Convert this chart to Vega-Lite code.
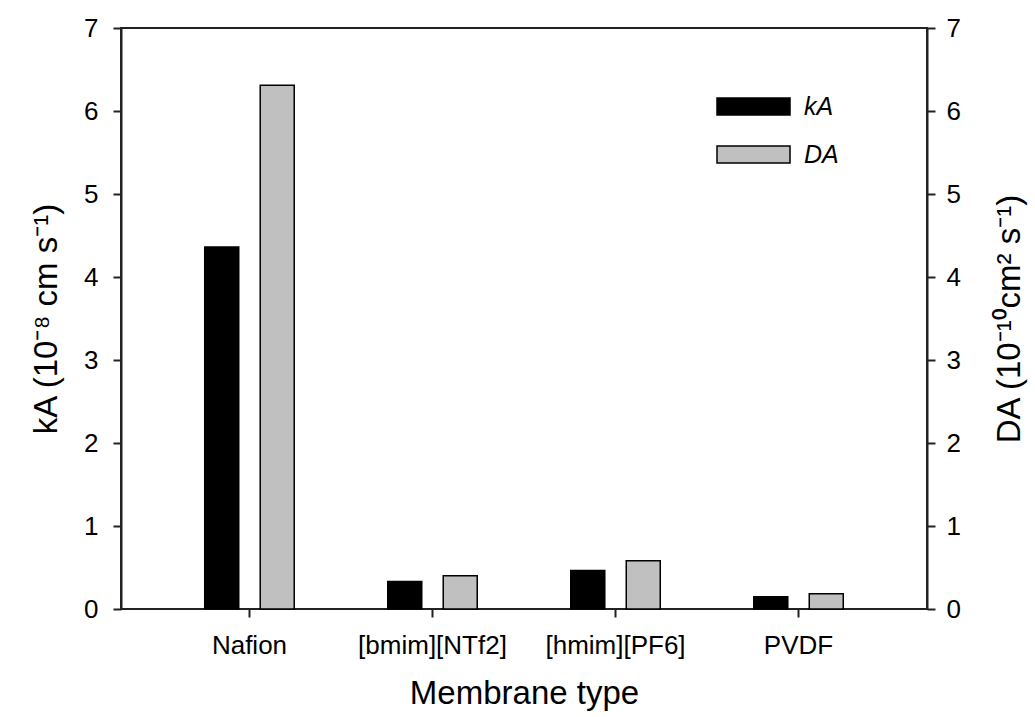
{
  "$schema": "https://vega.github.io/schema/vega-lite/v6.json",
  "width": 806,
  "height": 581,
  "autosize": "none",
  "padding": {"left": 121, "top": 28, "right": 108, "bottom": 108},
  "background": "white",
  "config": {
    "font": "Liberation Sans",
    "view": {"stroke": "#222222", "strokeWidth": 2},
    "axis": {
      "grid": false,
      "domainColor": "#222222",
      "domainWidth": 2,
      "tickColor": "#222222",
      "tickWidth": 2,
      "tickSize": 8,
      "labelFontSize": 26,
      "labelColor": "#000000",
      "titleFontSize": 33,
      "titleFontWeight": "normal",
      "titleColor": "#000000"
    }
  },
  "data": {
    "values": [
      {"membrane": "Nafion", "series": "kA", "value": 4.36},
      {"membrane": "Nafion", "series": "DA", "value": 6.31},
      {"membrane": "[bmim][NTf2]", "series": "kA", "value": 0.33},
      {"membrane": "[bmim][NTf2]", "series": "DA", "value": 0.40},
      {"membrane": "[hmim][PF6]", "series": "kA", "value": 0.465},
      {"membrane": "[hmim][PF6]", "series": "DA", "value": 0.58},
      {"membrane": "PVDF", "series": "kA", "value": 0.148},
      {"membrane": "PVDF", "series": "DA", "value": 0.184}
    ]
  },
  "encoding": {
    "x": {
      "field": "membrane",
      "type": "nominal",
      "sort": ["Nafion", "[bmim][NTf2]", "[hmim][PF6]", "PVDF"],
      "scale": {"paddingInner": 0.511, "paddingOuter": 0.4575},
      "axis": {
        "title": "Membrane type",
        "labelAngle": 0,
        "labelPadding": 15,
        "titlePadding": 19,
        "domain": false
      }
    },
    "xOffset": {
      "field": "series",
      "type": "nominal",
      "sort": ["kA", "DA"],
      "scale": {"paddingInner": 0.387, "paddingOuter": 0}
    },
    "color": {
      "field": "series",
      "type": "nominal",
      "scale": {"domain": ["kA", "DA"], "range": ["#000000", "#c0c0c0"]},
      "legend": {
        "title": null,
        "orient": "none",
        "legendX": 592,
        "legendY": 66,
        "symbolType": "M-1,-1H7.59V1H-1Z",
        "symbolSize": 289,
        "symbolStrokeColor": "#000000",
        "symbolStrokeWidth": 1.5,
        "labelOffset": 66,
        "labelFontSize": 25,
        "labelFontStyle": "italic",
        "labelColor": "#000000",
        "rowPadding": 22
      }
    }
  },
  "layer": [
    {
      "transform": [{"filter": "datum.series === 'kA'"}],
      "mark": {"type": "bar", "stroke": "#000000", "strokeWidth": 1.5},
      "encoding": {
        "y": {
          "field": "value",
          "type": "quantitative",
          "scale": {"domain": [0, 7], "nice": false},
          "axis": {
            "orient": "left",
            "title": "kA (10⁻⁸ cm s⁻¹)",
            "values": [0, 1, 2, 3, 4, 5, 6, 7],
            "format": "d",
            "labelPadding": 15,
            "titlePadding": 20
          }
        }
      }
    },
    {
      "transform": [{"filter": "datum.series === 'DA'"}],
      "mark": {"type": "bar", "stroke": "#000000", "strokeWidth": 1.5},
      "encoding": {
        "y": {
          "field": "value",
          "type": "quantitative",
          "scale": {"domain": [0, 7], "nice": false},
          "axis": {
            "orient": "right",
            "title": "DA (10⁻¹⁰cm² s⁻¹)",
            "titleAngle": 270,
            "values": [0, 1, 2, 3, 4, 5, 6, 7],
            "format": "d",
            "labelPadding": 11,
            "titlePadding": 66
          }
        }
      }
    }
  ],
  "resolve": {"scale": {"y": "independent"}}
}
